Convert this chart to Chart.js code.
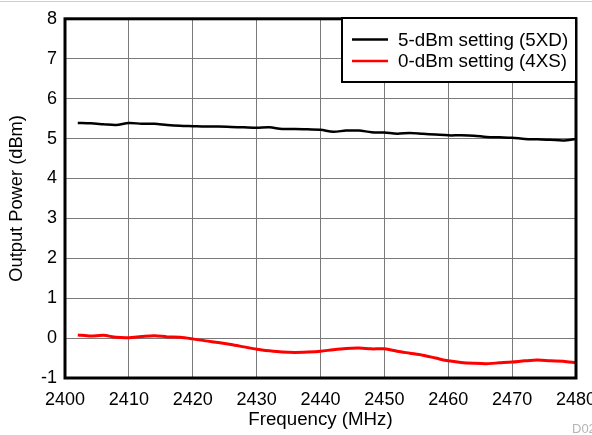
<!DOCTYPE html>
<html>
<head>
<meta charset="utf-8">
<script src="https://cdn.jsdelivr.net/npm/chart.js@4"></script>
<style>
  body { margin: 0; background: #fff; }
  #wrap { width: 592px; height: 435px; }
</style>
</head>
<body>
<div id="wrap"><canvas id="grafico" width="592" height="435"></canvas></div>
<script>
// frequencia (MHz)
const frequencias = [
    2402, 2404, 2406, 2408, 2410, 2412, 2414, 2416, 2418, 2420,
    2422, 2424, 2426, 2428, 2430, 2432, 2434, 2436, 2438, 2440,
    2442, 2444, 2446, 2448, 2450, 2452, 2454, 2456, 2458, 2460,
    2462, 2464, 2466, 2468, 2470, 2472, 2474, 2476, 2478, 2480
];
const potencia5dBm = [
    5.39, 5.38, 5.36, 5.34, 5.39, 5.37, 5.37, 5.34, 5.32, 5.31,
    5.30, 5.30, 5.29, 5.28, 5.27, 5.28, 5.24, 5.24, 5.23, 5.22,
    5.17, 5.20, 5.20, 5.16, 5.15, 5.12, 5.14, 5.12, 5.10, 5.08,
    5.08, 5.07, 5.04, 5.03, 5.02, 4.99, 4.98, 4.97, 4.95, 4.99
];
const potencia0dBm = [
    0.08, 0.05, 0.07, 0.02, 0.01, 0.04, 0.06, 0.03, 0.02, -0.02,
    -0.07, -0.11, -0.16, -0.22, -0.28, -0.32, -0.35, -0.36, -0.35, -0.33,
    -0.29, -0.26, -0.25, -0.27, -0.27, -0.33, -0.38, -0.43, -0.50, -0.57,
    -0.61, -0.63, -0.64, -0.62, -0.60, -0.57, -0.55, -0.57, -0.58, -0.62
];
const legendas = ['5-dBm setting (5XD)', '0-dBm setting (4XS)'];
const tituloX = 'Frequency (MHz)';
const tituloY = 'Output Power (dBm)';

const fonte = '"Liberation Sans", Arial, sans-serif';

function pontos(valores) {
    return frequencias.map((f, i) => ({ x: f, y: valores[i] }));
}

// moldura, legenda e detalhes da pagina
const moldura = {
    id: 'moldura',
    afterDatasetsDraw(chart) {
        const ctx = chart.ctx;
        const a = chart.chartArea;
        ctx.save();
        ctx.strokeStyle = '#000';
        ctx.lineWidth = 3;
        ctx.strokeRect(a.left, a.top, a.right - a.left, a.bottom - a.top);

        // caixa da legenda
        const bx = 342, by = 18, bw = a.right - 342, bh = 64;
        ctx.fillStyle = '#fff';
        ctx.fillRect(bx, by, bw, bh);
        ctx.lineWidth = 2;
        ctx.strokeRect(bx, by, bw, bh);
        ctx.font = '18.8px ' + fonte;
        ctx.textBaseline = 'middle';
        chart.data.datasets.forEach((ds, i) => {
            const y = 39.5 + i * 21.5;
            ctx.strokeStyle = ds.borderColor;
            ctx.lineWidth = 2.5;
            ctx.beginPath();
            ctx.moveTo(352, y);
            ctx.lineTo(388, y);
            ctx.stroke();
            ctx.fillStyle = '#000';
            ctx.fillText(ds.label, 398, y + 1);
        });

        ctx.strokeStyle = '#cfcfcf';
        ctx.lineWidth = 1;
        ctx.beginPath();
        ctx.moveTo(0, 1.5);
        ctx.lineTo(592, 1.5);
        ctx.stroke();
        ctx.fillStyle = '#b5b5b5';
        ctx.font = '13px ' + fonte;
        ctx.fillText('D024', 572, 429);
        ctx.restore();
    }
};

const ctx = document.getElementById('grafico').getContext('2d');
const grafico = new Chart(ctx, {
    type: 'line',
    data: {
        datasets: [{
            label: legendas[0],
            data: pontos(potencia5dBm),
            borderColor: '#000000',
            borderWidth: 2.5,
            pointRadius: 0,
            tension: 0.3
        }, {
            label: legendas[1],
            data: pontos(potencia0dBm),
            borderColor: '#ff0000',
            borderWidth: 3,
            pointRadius: 0,
            tension: 0.3
        }]
    },
    options: {
        responsive: false,
        animation: false,
        layout: { padding: { top: 17, right: 16, left: 0, bottom: 0 } },
        plugins: {
            legend: { display: false },
            tooltip: { enabled: false }
        },
        scales: {
            x: {
                type: 'linear',
                min: 2400,
                max: 2480,
                grid: { color: '#7a7a7a', lineWidth: 1, drawTicks: false },
                border: { display: false },
                ticks: {
                    stepSize: 10,
                    padding: 11,
                    color: '#000',
                    font: { family: fonte, size: 18 },
                    maxRotation: 0,
                    callback: v => String(v)
                },
                title: {
                    display: true,
                    text: tituloX,
                    color: '#000',
                    font: { family: fonte, size: 18.7 },
                    padding: { top: 0, bottom: 4 }
                },
                afterFit(s) {
                    s.height = 57;
                    s.paddingLeft = 0;
                    s.paddingRight = 0;
                }
            },
            y: {
                min: -1,
                max: 8,
                grid: { color: '#7a7a7a', lineWidth: 1, drawTicks: false },
                border: { display: false },
                ticks: {
                    stepSize: 1,
                    padding: 8,
                    color: '#000',
                    font: { family: fonte, size: 18 }
                },
                title: {
                    display: true,
                    text: tituloY,
                    color: '#000',
                    font: { family: fonte, size: 18.3 },
                    padding: { top: 6, bottom: 0 }
                },
                afterFit(s) {
                    s.width = 65;
                }
            }
        }
    },
    plugins: [moldura]
});
</script>
</body>
</html>
